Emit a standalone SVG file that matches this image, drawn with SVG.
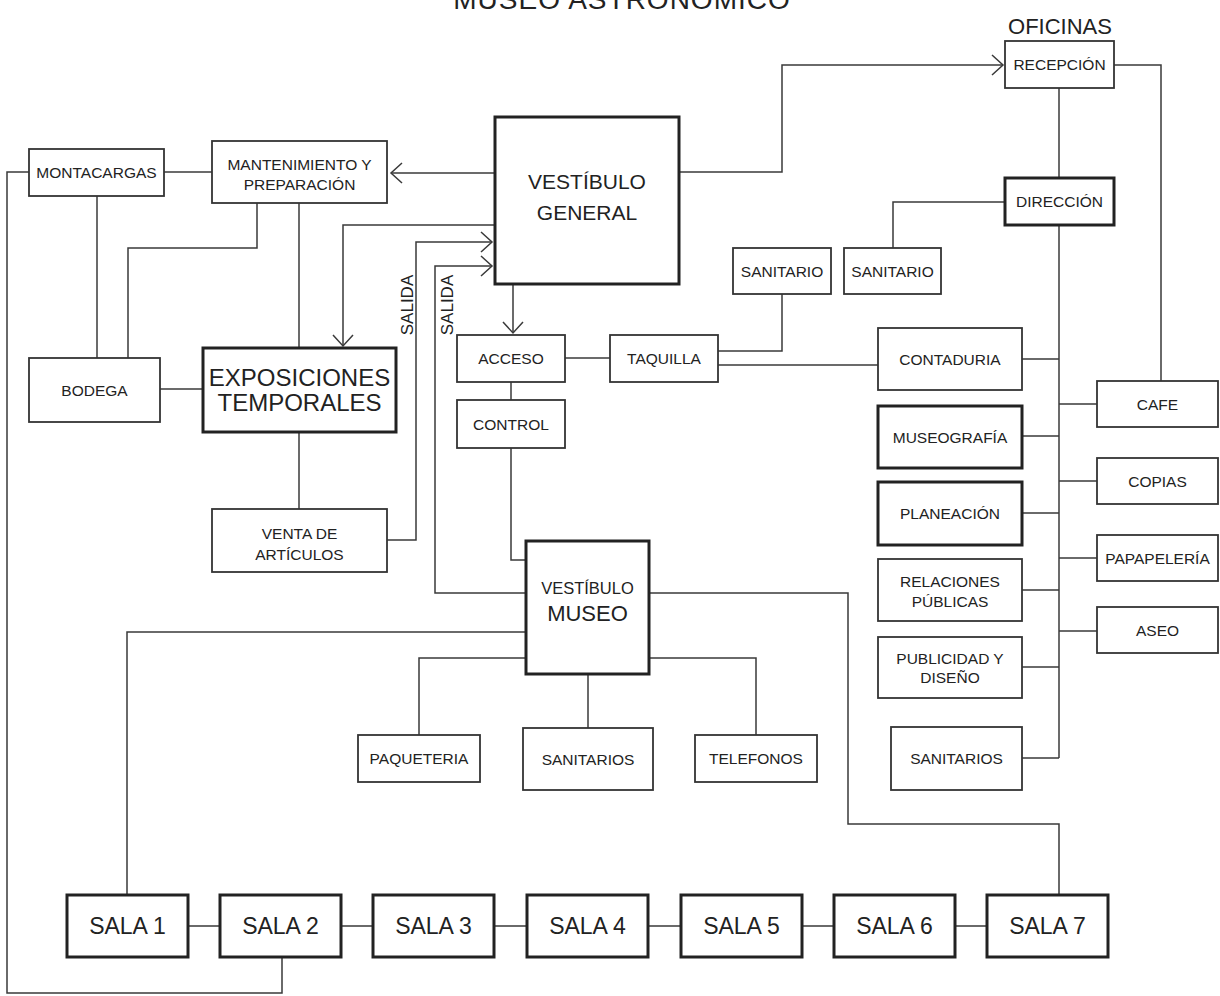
<svg xmlns="http://www.w3.org/2000/svg" width="1220" height="996" viewBox="0 0 1220 996">
<style>
text{font-family:"Liberation Sans",Arial,sans-serif;fill:#222;text-anchor:middle}
.b{fill:#fff;stroke:#333;stroke-width:1.8}
.t{fill:#fff;stroke:#222;stroke-width:3}
.s{font-size:15.5px}
.c{fill:none;stroke:#3a3a3a;stroke-width:1.5}
</style>
<defs>
<marker id="arr" viewBox="-13 -12 15 24" refX="0" refY="0" markerWidth="15" markerHeight="24" markerUnits="userSpaceOnUse" orient="auto">
<path d="M-11,-10 L0,0 L-11,10" fill="none" stroke="#3a3a3a" stroke-width="1.5"/>
</marker>
</defs>
<rect width="1220" height="996" fill="#fff"/>
<text x="622" y="9" style="font-size:28px;letter-spacing:1px">MUSEO ASTRONÓMICO</text>
<text x="1060" y="34" style="font-size:22px">OFICINAS</text>

<g id="connectors">
<path class="c" d="M495,173 L391,173" marker-end="url(#arr)"/>
<path class="c" d="M164,172 L212,172"/>
<path class="c" d="M29,172 L7,172 L7,993 L282,993 L282,957"/>
<path class="c" d="M97,196 L97,358"/>
<path class="c" d="M257,203 L257,248 L128,248 L128,358"/>
<path class="c" d="M299,203 L299,348"/>
<path class="c" d="M495,225 L343,225 L343,346" marker-end="url(#arr)"/>
<path class="c" d="M160,389 L203,389"/>
<path class="c" d="M299,432 L299,509"/>
<path class="c" d="M387,540 L416,540 L416,242 L492,242" marker-end="url(#arr)"/>
<path class="c" d="M526,593 L435,593 L435,266 L492,266" marker-end="url(#arr)"/>
<path class="c" d="M513,284 L513,333" marker-end="url(#arr)"/>
<path class="c" d="M565,358 L610,358"/>
<path class="c" d="M511,382 L511,400"/>
<path class="c" d="M511,448 L511,560 L526,560"/>
<path class="c" d="M718,351 L782,351 L782,294"/>
<path class="c" d="M718,365 L878,365"/>
<path class="c" d="M679,172 L782,172 L782,65 L1003,65" marker-end="url(#arr)"/>
<path class="c" d="M1114,65 L1161,65 L1161,381"/>
<path class="c" d="M1059,88 L1059,178"/>
<path class="c" d="M1005,202 L893,202 L893,248"/>
<path class="c" d="M1059,225 L1059,758"/>
<path class="c" d="M1022,359 H1059 M1022,436 H1059 M1022,513 H1059 M1022,590 H1059 M1022,667 H1059 M1022,758 H1059 M1059,404 H1097 M1059,481 H1097 M1059,558 H1097 M1059,631 H1097"/>
<path class="c" d="M526,632 L127,632 L127,895"/>
<path class="c" d="M526,658 L419,658 L419,735"/>
<path class="c" d="M588,674 L588,728"/>
<path class="c" d="M649,658 L756,658 L756,735"/>
<path class="c" d="M649,593 L848,593 L848,824 L1059,824 L1059,895"/>
<path class="c" d="M188,926 H220 M341,926 H373 M494,926 H527 M648,926 H681 M802,926 H834 M955,926 H987"/>
<text transform="translate(413,305) rotate(-90)" style="font-size:17px">SALIDA</text>
<text transform="translate(453,305) rotate(-90)" style="font-size:17px">SALIDA</text>
</g>

<g id="recepcion"><rect class="b" x="1005" y="41" width="109" height="47"/><text class="s" x="1059.5" y="70">RECEPCIÓN</text></g>
<g id="direccion"><rect class="t" x="1005" y="178" width="109" height="47"/><text class="s" x="1059.5" y="207">DIRECCIÓN</text></g>
<g id="sanitario1"><rect class="b" x="733" y="248" width="98" height="46"/><text class="s" x="782" y="276.5">SANITARIO</text></g>
<g id="sanitario2"><rect class="b" x="844" y="248" width="97" height="46"/><text class="s" x="892.5" y="276.5">SANITARIO</text></g>
<g id="montacargas"><rect class="b" x="29" y="149" width="135" height="47"/><text class="s" x="96.5" y="178">MONTACARGAS</text></g>
<g id="mantenimiento"><rect class="b" x="212" y="141" width="175" height="62"/><text class="s" x="299.5" y="170">MANTENIMIENTO Y</text><text class="s" x="299.5" y="190">PREPARACIÓN</text></g>
<g id="vestibulo-general"><rect class="t" x="495" y="117" width="184" height="167"/><text x="587" y="189" style="font-size:21px">VESTÍBULO</text><text x="587" y="220" style="font-size:21px">GENERAL</text></g>
<g id="bodega"><rect class="b" x="29" y="358" width="131" height="64"/><text class="s" x="94.5" y="395.5">BODEGA</text></g>
<g id="exposiciones"><rect class="t" x="203" y="348" width="193" height="84"/><text x="299.5" y="386" style="font-size:24px">EXPOSICIONES</text><text x="299.5" y="411" style="font-size:24px">TEMPORALES</text></g>
<g id="venta"><rect class="b" x="212" y="509" width="175" height="63"/><text class="s" x="299.5" y="539">VENTA DE</text><text class="s" x="299.5" y="560">ARTÍCULOS</text></g>
<g id="acceso"><rect class="b" x="457" y="335" width="108" height="47"/><text class="s" x="511" y="363.5">ACCESO</text></g>
<g id="taquilla"><rect class="b" x="610" y="335" width="108" height="47"/><text class="s" x="664" y="363.5">TAQUILLA</text></g>
<g id="control"><rect class="b" x="457" y="400" width="108" height="48"/><text class="s" x="511" y="429.5">CONTROL</text></g>
<g id="contaduria"><rect class="b" x="878" y="328" width="144" height="62"/><text class="s" x="950" y="364.5">CONTADURIA</text></g>
<g id="museografia"><rect class="t" x="878" y="406" width="144" height="62"/><text class="s" x="950" y="442.5">MUSEOGRAFÍA</text></g>
<g id="planeacion"><rect class="t" x="878" y="482" width="144" height="63"/><text class="s" x="950" y="519">PLANEACIÓN</text></g>
<g id="relaciones"><rect class="b" x="878" y="559" width="144" height="62"/><text class="s" x="950" y="587">RELACIONES</text><text class="s" x="950" y="607">PÚBLICAS</text></g>
<g id="publicidad"><rect class="b" x="878" y="637" width="144" height="61"/><text class="s" x="950" y="664">PUBLICIDAD Y</text><text class="s" x="950" y="683">DISEÑO</text></g>
<g id="sanitarios-oficinas"><rect class="b" x="891" y="727" width="131" height="63"/><text class="s" x="956.5" y="763.5">SANITARIOS</text></g>
<g id="cafe"><rect class="b" x="1097" y="381" width="121" height="46"/><text class="s" x="1157.5" y="409.5">CAFE</text></g>
<g id="copias"><rect class="b" x="1097" y="458" width="121" height="46"/><text class="s" x="1157.5" y="486.5">COPIAS</text></g>
<g id="papeleria"><rect class="b" x="1097" y="535" width="121" height="46"/><text class="s" x="1157.5" y="563.5">PAPAPELERÍA</text></g>
<g id="aseo"><rect class="b" x="1097" y="607" width="121" height="46"/><text class="s" x="1157.5" y="635.5">ASEO</text></g>
<g id="vestibulo-museo"><rect class="t" x="526" y="541" width="123" height="133"/><text x="587.5" y="594" style="font-size:16.5px">VESTÍBULO</text><text x="587.5" y="621" style="font-size:22px">MUSEO</text></g>
<g id="paqueteria"><rect class="b" x="358" y="735" width="122" height="47"/><text class="s" x="419" y="764">PAQUETERIA</text></g>
<g id="sanitarios-museo"><rect class="b" x="523" y="728" width="130" height="62"/><text class="s" x="588" y="764.5">SANITARIOS</text></g>
<g id="telefonos"><rect class="b" x="695" y="735" width="122" height="47"/><text class="s" x="756" y="764">TELEFONOS</text></g>
<g id="sala1"><rect class="t" x="67" y="895" width="121" height="62"/><text x="127.5" y="934" style="font-size:23px">SALA 1</text></g>
<g id="sala2"><rect class="t" x="220" y="895" width="121" height="62"/><text x="280.5" y="934" style="font-size:23px">SALA 2</text></g>
<g id="sala3"><rect class="t" x="373" y="895" width="121" height="62"/><text x="433.5" y="934" style="font-size:23px">SALA 3</text></g>
<g id="sala4"><rect class="t" x="527" y="895" width="121" height="62"/><text x="587.5" y="934" style="font-size:23px">SALA 4</text></g>
<g id="sala5"><rect class="t" x="681" y="895" width="121" height="62"/><text x="741.5" y="934" style="font-size:23px">SALA 5</text></g>
<g id="sala6"><rect class="t" x="834" y="895" width="121" height="62"/><text x="894.5" y="934" style="font-size:23px">SALA 6</text></g>
<g id="sala7"><rect class="t" x="987" y="895" width="121" height="62"/><text x="1047.5" y="934" style="font-size:23px">SALA 7</text></g>
</svg>
